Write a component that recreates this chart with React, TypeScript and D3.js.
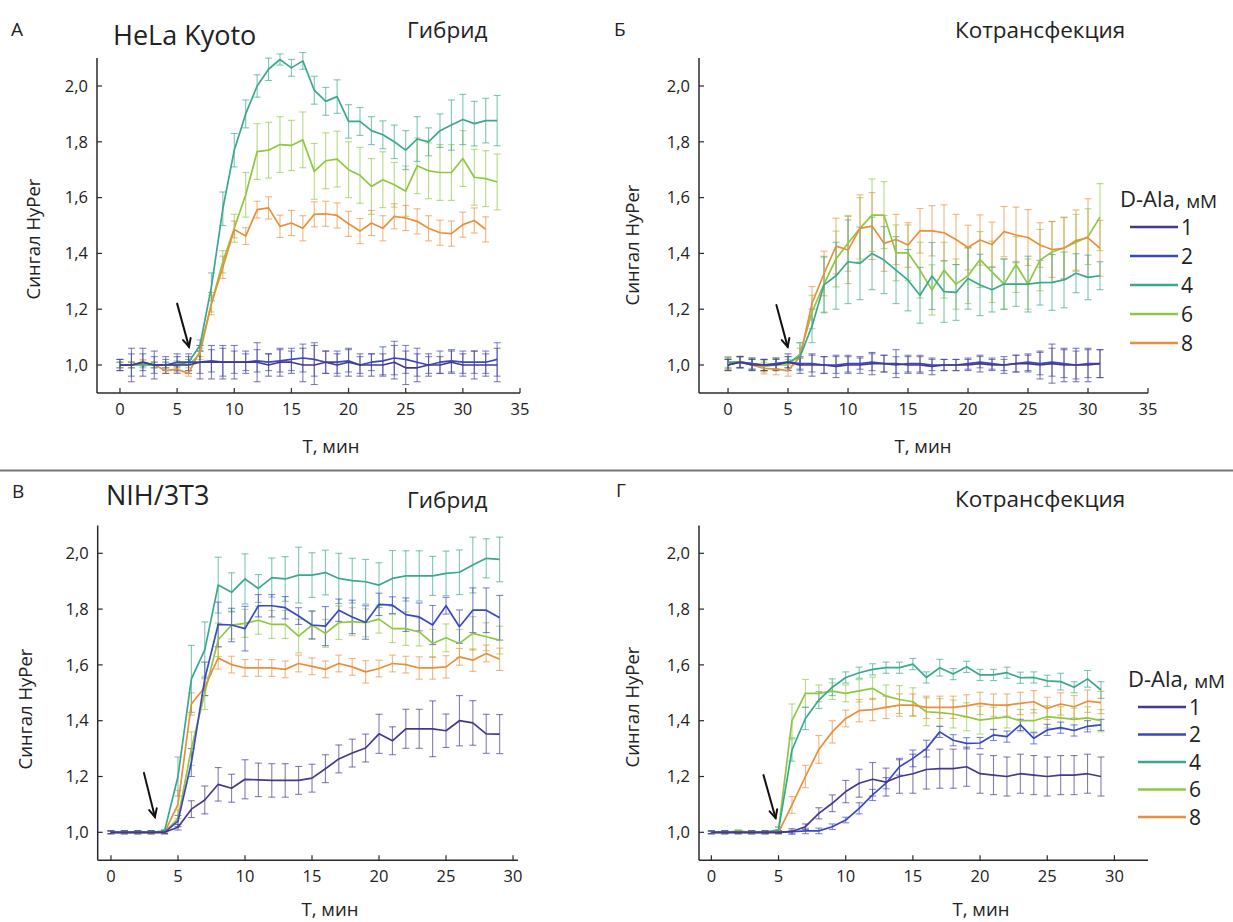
import React from 'react';
import * as d3 from 'd3';

// ---------- DATA (minute = array index) ----------
const concentrations = ['1', '2', '4', '6', '8'];
const seriesColors = ['#46388a', '#3848c4', '#3aa88e', '#8fc742', '#e98f3c'];
const yTickValues = [1.0, 1.2, 1.4, 1.6, 1.8, 2.0];
const xTicksTop = [0, 5, 10, 15, 20, 25, 30, 35];
const xTicksBottom = [0, 5, 10, 15, 20, 25, 30];

// Panel A: HeLa Kyoto, hybrid
const A_1 = [1.0, 1.0, 1.01, 1.0, 1.0, 1.0, 1.0, 1.01, 1.01, 1.01, 1.01, 1.01, 1.01, 1.0, 1.01, 1.01, 1.0, 1.0, 1.01, 1.0, 1.01, 1.0, 1.0, 1.0, 1.01, 0.99, 0.99, 1.0, 1.0, 1.01, 1.0, 1.0, 1.0, 1.0];
const A_1_err = [0.02, 0.06, 0.05, 0.05, 0.03, 0.03, 0.03, 0.06, 0.06, 0.06, 0.06, 0.04, 0.07, 0.04, 0.05, 0.04, 0.06, 0.07, 0.04, 0.04, 0.05, 0.04, 0.04, 0.04, 0.06, 0.06, 0.05, 0.04, 0.03, 0.04, 0.04, 0.05, 0.04, 0.06];
const A_2 = [1.0, 1.0, 1.01, 1.0, 1.0, 1.01, 1.01, 1.01, 1.015, 1.01, 1.01, 1.01, 1.015, 1.01, 1.015, 1.02, 1.025, 1.02, 1.01, 1.01, 1.015, 1.0, 1.01, 1.015, 1.025, 1.02, 1.01, 1.0, 1.01, 1.015, 1.01, 1.01, 1.01, 1.02];
const A_2_err = [0.02, 0.04, 0.03, 0.03, 0.02, 0.03, 0.03, 0.04, 0.04, 0.05, 0.04, 0.03, 0.04, 0.03, 0.04, 0.04, 0.05, 0.06, 0.04, 0.04, 0.04, 0.03, 0.03, 0.05, 0.06, 0.05, 0.05, 0.03, 0.04, 0.04, 0.04, 0.04, 0.04, 0.06];
const A_4 = [1.0, 1.0, 1.0, 1.0, 1.0, 1.0, 1.01, 1.07, 1.28, 1.56, 1.77, 1.9, 2.0, 2.06, 2.095, 2.065, 2.09, 1.985, 1.945, 1.962, 1.873, 1.873, 1.84, 1.825, 1.8, 1.77, 1.81, 1.8, 1.84, 1.86, 1.88, 1.865, 1.876, 1.876];
const A_4_err = [0.01, 0.01, 0.01, 0.01, 0.01, 0.01, 0.01, 0.02, 0.05, 0.06, 0.06, 0.05, 0.04, 0.04, 0.02, 0.03, 0.03, 0.05, 0.05, 0.06, 0.06, 0.05, 0.05, 0.05, 0.06, 0.07, 0.08, 0.05, 0.06, 0.09, 0.09, 0.08, 0.08, 0.09];
const A_6 = [1.0, 1.0, 1.005, 1.0, 1.0, 1.005, 1.0, 1.04, 1.22, 1.37, 1.49, 1.61, 1.765, 1.77, 1.79, 1.787, 1.807, 1.694, 1.732, 1.738, 1.7, 1.68, 1.64, 1.664, 1.646, 1.623, 1.714, 1.696, 1.69, 1.69, 1.74, 1.673, 1.668, 1.656];
const A_6_err = [0.01, 0.01, 0.01, 0.01, 0.01, 0.01, 0.01, 0.02, 0.03, 0.04, 0.05, 0.08, 0.1, 0.1, 0.1, 0.09, 0.1, 0.1, 0.1, 0.1, 0.1, 0.1, 0.1, 0.1, 0.08, 0.09, 0.1, 0.1, 0.1, 0.1, 0.1, 0.1, 0.1, 0.1];
const A_8 = [1.0, 1.0, 1.01, 1.0, 0.98, 0.985, 0.97, 1.05, 1.22, 1.35, 1.486, 1.462, 1.557, 1.563, 1.497, 1.509, 1.49, 1.54, 1.542, 1.536, 1.506, 1.48, 1.509, 1.49, 1.533, 1.527, 1.515, 1.49, 1.474, 1.471, 1.503, 1.518, 1.486];
const A_8_err = [0.01, 0.01, 0.01, 0.01, 0.01, 0.01, 0.01, 0.02, 0.04, 0.04, 0.03, 0.03, 0.03, 0.04, 0.04, 0.045, 0.045, 0.045, 0.045, 0.045, 0.045, 0.045, 0.045, 0.045, 0.045, 0.045, 0.045, 0.045, 0.045, 0.045, 0.045, 0.045, 0.045];

// Panel B: HeLa Kyoto, co-transfection
const B_1 = [1.0, 1.01, 1.0, 1.0, 1.0, 1.01, 1.0, 1.0, 1.0, 0.995, 1.0, 1.0, 1.005, 1.005, 1.005, 1.0, 1.0, 0.995, 1.0, 1.0, 1.0, 1.005, 1.0, 1.0, 1.005, 1.005, 1.0, 1.005, 1.0, 1.0, 1.0, 1.005];
const B_1_err = [0.02, 0.02, 0.02, 0.02, 0.02, 0.03, 0.03, 0.04, 0.03, 0.04, 0.03, 0.03, 0.04, 0.03, 0.05, 0.03, 0.03, 0.03, 0.02, 0.02, 0.02, 0.03, 0.02, 0.03, 0.03, 0.03, 0.05, 0.07, 0.06, 0.06, 0.06, 0.05];
const B_2 = [1.0, 1.01, 1.005, 1.0, 1.005, 1.01, 1.005, 1.005, 1.0, 1.0, 1.005, 1.005, 1.01, 1.005, 1.0, 1.005, 1.005, 1.0, 1.0, 1.0, 1.005, 1.01, 1.005, 1.0, 1.005, 1.01, 1.005, 1.01, 1.005, 1.0, 1.005, 1.005];
const B_2_err = [0.02, 0.02, 0.02, 0.02, 0.02, 0.02, 0.02, 0.03, 0.03, 0.03, 0.03, 0.02, 0.03, 0.03, 0.03, 0.03, 0.03, 0.02, 0.02, 0.02, 0.02, 0.02, 0.02, 0.02, 0.03, 0.03, 0.04, 0.05, 0.05, 0.05, 0.05, 0.05];
const B_4 = [1.01, 1.01, 1.005, 1.0, 1.005, 1.01, 1.03, 1.14, 1.287, 1.32, 1.37, 1.364, 1.4, 1.376, 1.34, 1.304, 1.25, 1.319, 1.263, 1.26, 1.31, 1.287, 1.27, 1.29, 1.29, 1.29, 1.295, 1.296, 1.305, 1.329, 1.314, 1.32];
const B_4_err = [0.02, 0.02, 0.02, 0.02, 0.02, 0.02, 0.05, 0.06, 0.1, 0.12, 0.15, 0.13, 0.13, 0.12, 0.12, 0.11, 0.1, 0.12, 0.11, 0.1, 0.11, 0.11, 0.08, 0.09, 0.08, 0.1, 0.08, 0.1, 0.1, 0.07, 0.08, 0.05];
const B_6 = [1.005, 1.01, 1.0, 0.995, 1.0, 1.0, 1.04, 1.19, 1.29, 1.38, 1.436, 1.49, 1.537, 1.537, 1.402, 1.402, 1.34, 1.269, 1.34, 1.29, 1.32, 1.378, 1.334, 1.29, 1.36, 1.29, 1.376, 1.405, 1.42, 1.44, 1.46, 1.53];
const B_6_err = [0.02, 0.02, 0.02, 0.02, 0.02, 0.02, 0.04, 0.06, 0.1, 0.1, 0.1, 0.11, 0.13, 0.12, 0.1, 0.1, 0.1, 0.09, 0.1, 0.09, 0.1, 0.1, 0.11, 0.09, 0.1, 0.09, 0.11, 0.11, 0.11, 0.1, 0.1, 0.12];
const B_8 = [1.006, 1.012, 1.0, 0.988, 0.985, 0.98, 1.03, 1.221, 1.328, 1.426, 1.412, 1.49, 1.498, 1.436, 1.45, 1.43, 1.481, 1.481, 1.474, 1.45, 1.421, 1.448, 1.432, 1.478, 1.466, 1.457, 1.43, 1.414, 1.418, 1.446, 1.456, 1.418];
const B_8_err = [0.02, 0.02, 0.02, 0.02, 0.02, 0.02, 0.03, 0.06, 0.08, 0.1, 0.12, 0.12, 0.12, 0.1, 0.09, 0.08, 0.08, 0.09, 0.1, 0.09, 0.08, 0.09, 0.08, 0.09, 0.1, 0.1, 0.08, 0.1, 0.11, 0.11, 0.14, 0.1];

// Panel C: NIH/3T3, hybrid
const C_1 = [1.0, 1.0, 1.0, 1.0, 1.0, 1.018, 1.083, 1.116, 1.172, 1.158, 1.19, 1.188, 1.186, 1.186, 1.186, 1.194, 1.228, 1.263, 1.284, 1.302, 1.353, 1.328, 1.371, 1.371, 1.371, 1.364, 1.4, 1.392, 1.353, 1.352];
const C_1_err = [0.005, 0.005, 0.005, 0.005, 0.005, 0.01, 0.03, 0.05, 0.06, 0.05, 0.07, 0.06, 0.06, 0.06, 0.05, 0.05, 0.05, 0.05, 0.05, 0.05, 0.07, 0.05, 0.07, 0.07, 0.1, 0.06, 0.09, 0.08, 0.07, 0.07];
const C_2 = [1.0, 1.0, 1.0, 1.0, 1.0, 1.04, 1.25, 1.55, 1.745, 1.743, 1.73, 1.812, 1.812, 1.805, 1.775, 1.743, 1.739, 1.796, 1.772, 1.752, 1.817, 1.814, 1.78, 1.772, 1.743, 1.812, 1.737, 1.796, 1.796, 1.769];
const C_2_err = [0.005, 0.005, 0.005, 0.005, 0.005, 0.02, 0.05, 0.06, 0.08, 0.06, 0.08, 0.04, 0.04, 0.04, 0.03, 0.05, 0.07, 0.04, 0.06, 0.06, 0.04, 0.03, 0.06, 0.05, 0.07, 0.03, 0.06, 0.08, 0.08, 0.08];
const C_4 = [1.0, 1.0, 1.0, 1.0, 1.005, 1.2, 1.55, 1.654, 1.886, 1.86, 1.908, 1.874, 1.913, 1.908, 1.922, 1.922, 1.931, 1.91, 1.902, 1.898, 1.886, 1.91, 1.919, 1.919, 1.919, 1.928, 1.932, 1.958, 1.982, 1.978];
const C_4_err = [0.005, 0.005, 0.005, 0.005, 0.005, 0.07, 0.12, 0.1, 0.1, 0.07, 0.09, 0.05, 0.07, 0.08, 0.1, 0.08, 0.08, 0.09, 0.08, 0.08, 0.08, 0.1, 0.09, 0.09, 0.07, 0.08, 0.08, 0.1, 0.07, 0.08];
const C_6 = [1.0, 1.0, 1.0, 1.0, 1.0, 1.05, 1.3, 1.5, 1.69, 1.743, 1.749, 1.76, 1.745, 1.745, 1.703, 1.743, 1.713, 1.751, 1.755, 1.751, 1.764, 1.73, 1.73, 1.718, 1.677, 1.697, 1.677, 1.713, 1.701, 1.689];
const C_6_err = [0.005, 0.005, 0.005, 0.005, 0.005, 0.03, 0.06, 0.06, 0.06, 0.05, 0.05, 0.05, 0.05, 0.05, 0.06, 0.05, 0.05, 0.06, 0.05, 0.05, 0.05, 0.05, 0.06, 0.05, 0.05, 0.05, 0.05, 0.06, 0.05, 0.05];
const C_8 = [1.0, 1.0, 1.0, 1.0, 1.0, 1.1, 1.46, 1.52, 1.625, 1.601, 1.589, 1.589, 1.589, 1.584, 1.605, 1.595, 1.584, 1.605, 1.593, 1.575, 1.587, 1.605, 1.601, 1.589, 1.589, 1.593, 1.629, 1.617, 1.641, 1.62];
const C_8_err = [0.005, 0.005, 0.005, 0.005, 0.005, 0.05, 0.04, 0.03, 0.04, 0.03, 0.03, 0.03, 0.03, 0.03, 0.03, 0.03, 0.03, 0.03, 0.03, 0.04, 0.03, 0.03, 0.03, 0.04, 0.04, 0.04, 0.03, 0.04, 0.03, 0.04];

// Panel D: NIH/3T3, co-transfection
const D_1 = [1.0, 1.0, 1.0, 1.0, 1.0, 1.0, 1.003, 1.02, 1.068, 1.104, 1.146, 1.176, 1.19, 1.18, 1.2, 1.21, 1.225, 1.228, 1.228, 1.235, 1.21, 1.205, 1.2, 1.21, 1.205, 1.2, 1.205, 1.205, 1.21, 1.2];
const D_1_err = [0.005, 0.005, 0.005, 0.005, 0.005, 0.005, 0.01, 0.01, 0.02, 0.03, 0.04, 0.05, 0.06, 0.05, 0.06, 0.07, 0.07, 0.07, 0.07, 0.07, 0.07, 0.07, 0.07, 0.07, 0.07, 0.07, 0.07, 0.07, 0.07, 0.07];
const D_2 = [1.0, 1.0, 1.0, 1.0, 1.0, 1.0, 1.002, 1.005, 1.005, 1.02, 1.044, 1.086, 1.134, 1.176, 1.235, 1.265, 1.3, 1.36, 1.33, 1.319, 1.32, 1.349, 1.343, 1.385, 1.337, 1.367, 1.375, 1.365, 1.38, 1.385];
const D_2_err = [0.005, 0.005, 0.005, 0.005, 0.005, 0.005, 0.005, 0.01, 0.01, 0.01, 0.01, 0.02, 0.02, 0.02, 0.03, 0.03, 0.03, 0.02, 0.02, 0.02, 0.02, 0.02, 0.02, 0.02, 0.02, 0.02, 0.02, 0.02, 0.02, 0.02];
const D_4 = [1.0, 1.0, 1.0, 1.0, 1.0, 1.008, 1.295, 1.408, 1.474, 1.52, 1.555, 1.572, 1.584, 1.59, 1.59, 1.603, 1.555, 1.59, 1.567, 1.593, 1.564, 1.564, 1.572, 1.554, 1.555, 1.543, 1.54, 1.52, 1.55, 1.51];
const D_4_err = [0.005, 0.005, 0.005, 0.005, 0.005, 0.01, 0.04, 0.04, 0.03, 0.03, 0.02, 0.02, 0.02, 0.02, 0.02, 0.02, 0.02, 0.03, 0.02, 0.02, 0.02, 0.02, 0.02, 0.02, 0.02, 0.02, 0.03, 0.02, 0.03, 0.03];
const D_6 = [1.0, 1.0, 1.005, 1.0, 1.0, 1.01, 1.4, 1.498, 1.498, 1.506, 1.498, 1.507, 1.516, 1.488, 1.476, 1.468, 1.432, 1.429, 1.424, 1.414, 1.402, 1.408, 1.414, 1.4, 1.4, 1.414, 1.41, 1.405, 1.41, 1.4];
const D_6_err = [0.005, 0.005, 0.005, 0.005, 0.005, 0.01, 0.06, 0.05, 0.03, 0.03, 0.03, 0.04, 0.04, 0.04, 0.05, 0.05, 0.05, 0.05, 0.05, 0.05, 0.05, 0.04, 0.04, 0.04, 0.04, 0.04, 0.04, 0.04, 0.04, 0.04];
const D_8 = [1.0, 1.0, 1.0, 1.0, 1.0, 1.0, 1.098, 1.2, 1.297, 1.36, 1.408, 1.436, 1.44, 1.448, 1.456, 1.456, 1.448, 1.448, 1.448, 1.453, 1.462, 1.456, 1.456, 1.462, 1.468, 1.444, 1.46, 1.45, 1.47, 1.465];
const D_8_err = [0.005, 0.005, 0.005, 0.005, 0.005, 0.005, 0.03, 0.04, 0.05, 0.04, 0.03, 0.04, 0.04, 0.04, 0.04, 0.04, 0.04, 0.04, 0.04, 0.04, 0.04, 0.04, 0.04, 0.04, 0.04, 0.04, 0.04, 0.04, 0.04, 0.04];

// stimulus arrows (minute, signal) tail -> tip
const arrowA = [[5.0, 1.22], [6.04, 1.065]];
const arrowB = [[4.03, 1.215], [4.97, 1.065]];
const arrowC = [[2.46, 1.213], [3.28, 1.055]];
const arrowD = [[3.88, 1.205], [4.78, 1.051]];

// ---------- LAYOUT ----------
const FONT = "'Open Sans', 'Noto Sans', sans-serif";

type PanelCfg = {
  xDomain: [number, number]; xRange: [number, number];
  yRange: [number, number]; xTicks: number[];
  series: { v: number[]; e: number[] }[];
  arrow: number[][];
  letter: string; letterX: number; letterY: number;
  cell?: string; cellX: number; cellY: number;
  method: string; methodX: number; methodY: number;
  yLabelX: number; yLabelY: number; xLabelX: number; xLabelY: number;
  legend?: { x: number; y: number; step: number };
};

const panels: PanelCfg[] = [
  {
    xDomain: [-2.01, 35], xRange: [97, 520], yRange: [392.9, 58.1], xTicks: xTicksTop,
    series: [{ v: A_1, e: A_1_err }, { v: A_2, e: A_2_err }, { v: A_4, e: A_4_err }, { v: A_6, e: A_6_err }, { v: A_8, e: A_8_err }],
    arrow: arrowA, letter: 'А', letterX: 11, letterY: 36, cell: 'HeLa Kyoto', cellX: 113, cellY: 45,
    method: 'Гибрид', methodX: 407, methodY: 38, yLabelX: 34, yLabelY: 239, xLabelX: 331, xLabelY: 453,
  },
  {
    xDomain: [-2.42, 35], xRange: [699, 1148], yRange: [392.9, 58.1], xTicks: xTicksTop,
    series: [{ v: B_1, e: B_1_err }, { v: B_2, e: B_2_err }, { v: B_4, e: B_4_err }, { v: B_6, e: B_6_err }, { v: B_8, e: B_8_err }],
    arrow: arrowB, letter: 'Б', letterX: 614, letterY: 36, cellX: 0, cellY: 0,
    method: 'Котрансфекция', methodX: 955, methodY: 38, yLabelX: 633, yLabelY: 245, xLabelX: 923, xLabelY: 453,
    legend: { x: 1120, y: 227, step: 29 },
  },
  {
    xDomain: [-0.99, 30.37], xRange: [97.7, 518], yRange: [860.2, 525.4], xTicks: xTicksBottom,
    series: [{ v: C_1, e: C_1_err }, { v: C_2, e: C_2_err }, { v: C_4, e: C_4_err }, { v: C_6, e: C_6_err }, { v: C_8, e: C_8_err }],
    arrow: arrowC, letter: 'В', letterX: 12, letterY: 498, cell: 'NIH/3T3', cellX: 106, cellY: 505,
    method: 'Гибрид', methodX: 407, methodY: 508, yLabelX: 26, yLabelY: 709, xLabelX: 330, xLabelY: 916,
  },
  {
    xDomain: [-0.92, 32.5], xRange: [699, 1148], yRange: [860.2, 525.4], xTicks: xTicksBottom,
    series: [{ v: D_1, e: D_1_err }, { v: D_2, e: D_2_err }, { v: D_4, e: D_4_err }, { v: D_6, e: D_6_err }, { v: D_8, e: D_8_err }],
    arrow: arrowD, letter: 'Г', letterX: 616, letterY: 497, cellX: 0, cellY: 0,
    method: 'Котрансфекция', methodX: 955, methodY: 507, yLabelX: 633, yLabelY: 707, xLabelX: 981, xLabelY: 916,
    legend: { x: 1128, y: 707, step: 27.5 },
  },
];

const fmt = (v: number) => d3.format('.1f')(v).replace('.', ',');

function Panel({ cfg }: { cfg: PanelCfg }) {
  const x = d3.scaleLinear().domain(cfg.xDomain).range(cfg.xRange);
  const y = d3.scaleLinear().domain([0.9, 2.1]).range(cfg.yRange);
  const line = d3.line<number>().x((_, i) => x(i)).y((d) => y(d));
  const axisColor = '#2a2a2a';
  const drawOrder = [3, 4, 2, 1, 0];
  const [tail, tip] = cfg.arrow;
  const ax0 = x(tail[0]), ay0 = y(tail[1]), ax1 = x(tip[0]), ay1 = y(tip[1]);
  const ang = Math.atan2(ay1 - ay0, ax1 - ax0);
  const hl = 9, hw = 0.45;
  const lg = cfg.legend;
  return (
    <g>
      {drawOrder.map((si) => {
        const s = cfg.series[si];
        return (
          <g key={'e' + si} stroke={seriesColors[si]} strokeOpacity={0.65} strokeWidth={1.1} fill="none">
            {s.v.map((v, i) => {
              const cx = x(i), y0 = y(v - s.e[i]), y1 = y(v + s.e[i]);
              return (
                <g key={i}>
                  <line x1={cx} x2={cx} y1={y0} y2={y1} />
                  <line x1={cx - 3.5} x2={cx + 3.5} y1={y0} y2={y0} />
                  <line x1={cx - 3.5} x2={cx + 3.5} y1={y1} y2={y1} />
                </g>
              );
            })}
          </g>
        );
      })}
      {drawOrder.map((si) => (
        <path key={'l' + si} d={line(cfg.series[si].v) || ''} fill="none" stroke={seriesColors[si]} strokeWidth={1.7} strokeLinejoin="round" />
      ))}
      <line x1={cfg.xRange[0]} x2={cfg.xRange[0]} y1={cfg.yRange[1]} y2={cfg.yRange[0]} stroke={axisColor} strokeWidth={1.5} />
      <line x1={cfg.xRange[0]} x2={cfg.xRange[1]} y1={cfg.yRange[0]} y2={cfg.yRange[0]} stroke={axisColor} strokeWidth={1.5} />
      {yTickValues.map((t) => (
        <g key={'y' + t}>
          <line x1={cfg.xRange[0]} x2={cfg.xRange[0] + 5} y1={y(t)} y2={y(t)} stroke={axisColor} strokeWidth={1.2} />
          <text x={cfg.xRange[0] - 9} y={y(t)} dy="0.35em" textAnchor="end" fontSize={16.5} fill="#222" fontFamily={FONT}>{fmt(t)}</text>
        </g>
      ))}
      {cfg.xTicks.map((t) => (
        <g key={'x' + t}>
          <line x1={x(t)} x2={x(t)} y1={cfg.yRange[0]} y2={cfg.yRange[0] - 5} stroke={axisColor} strokeWidth={1.2} />
          <text x={x(t)} y={cfg.yRange[0] + 22} textAnchor="middle" fontSize={16.5} fill="#222" fontFamily={FONT}>{t}</text>
        </g>
      ))}
      <g stroke="#111" strokeWidth={2} fill="none" strokeLinecap="round">
        <line x1={ax0} y1={ay0} x2={ax1} y2={ay1} />
        <polyline points={`${ax1 - hl * Math.cos(ang - hw)},${ay1 - hl * Math.sin(ang - hw)} ${ax1},${ay1} ${ax1 - hl * Math.cos(ang + hw)},${ay1 - hl * Math.sin(ang + hw)}`} />
      </g>
      <text x={cfg.letterX} y={cfg.letterY} fontSize={19} fill="#222" fontFamily={FONT}>{cfg.letter}</text>
      {cfg.cell && <text x={cfg.cellX} y={cfg.cellY} fontSize={27} fill="#222" fontFamily={FONT}>{cfg.cell}</text>}
      <text x={cfg.methodX} y={cfg.methodY} fontSize={22.5} fill="#222" fontFamily={FONT}>{cfg.method}</text>
      <text transform={`translate(${cfg.yLabelX},${cfg.yLabelY}) rotate(-90)`} textAnchor="middle" dy="0.35em" fontSize={18.5} fill="#222" fontFamily={FONT}>Сингал HyPer</text>
      <text x={cfg.xLabelX} y={cfg.xLabelY} textAnchor="middle" fontSize={18.5} fill="#222" fontFamily={FONT}>T, мин</text>
      {lg && (
        <g fontFamily={FONT} fill="#222">
          <text x={lg.x} y={lg.y - 20} fontSize={22}>D-Ala, <tspan fontSize={19} dy={1}>мМ</tspan></text>
          {concentrations.map((c, i) => (
            <g key={c}>
              <line x1={lg.x + 10} x2={lg.x + 58} y1={lg.y + i * lg.step} y2={lg.y + i * lg.step} stroke={seriesColors[i]} strokeWidth={2.5} />
              <text x={lg.x + 61} y={lg.y + i * lg.step} dy="0.36em" fontSize={21}>{c}</text>
            </g>
          ))}
        </g>
      )}
    </g>
  );
}

export default function App() {
  return (
    <svg width={1233} height={922} style={{ position: 'absolute', left: 0, top: 0, background: '#fff' }}>
      <rect x={0} y={0} width={1233} height={922} fill="#fff" />
      <line x1={0} x2={1233} y1={470.5} y2={470.5} stroke="#777" strokeWidth={2} />
      {panels.map((p, i) => <Panel key={i} cfg={p} />)}
    </svg>
  );
}
